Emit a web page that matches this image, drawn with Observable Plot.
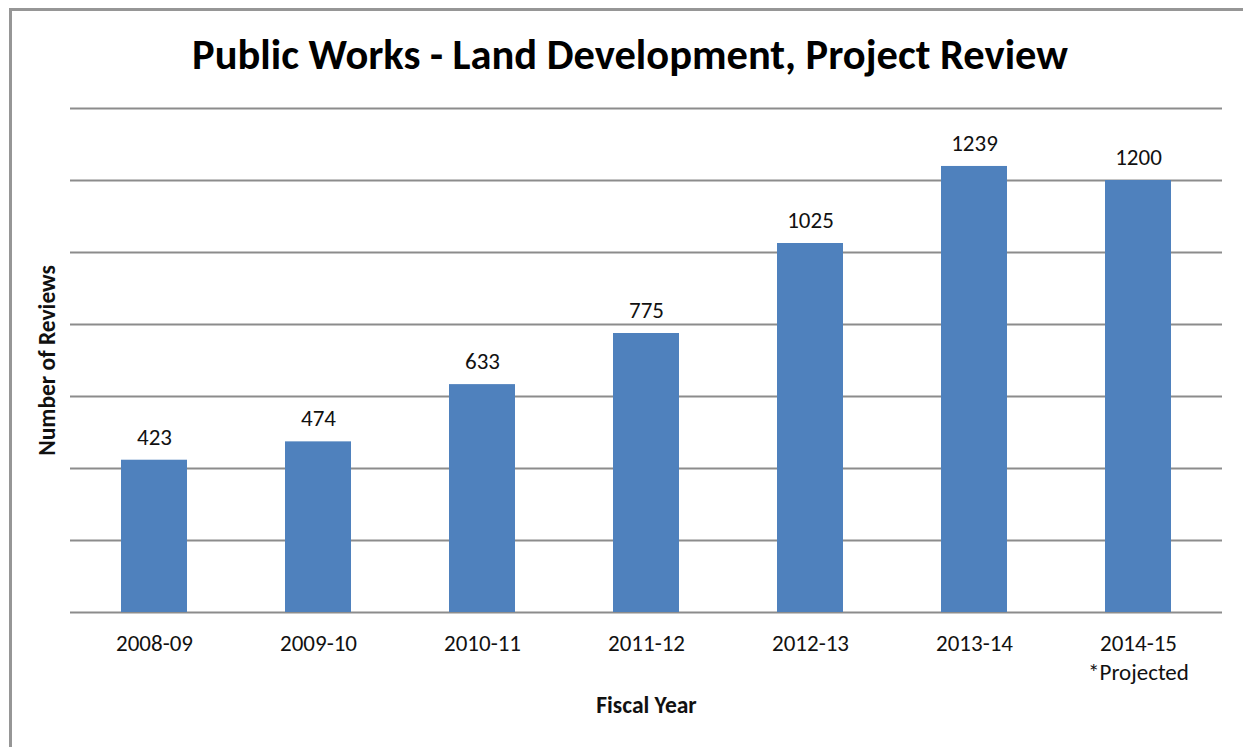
<!DOCTYPE html>
<html>
<head>
<meta charset="utf-8">
<script src="https://cdn.jsdelivr.net/npm/d3@7"></script>
<script src="https://cdn.jsdelivr.net/npm/@observablehq/plot@0.6"></script>
<style>
  html, body { margin: 0; padding: 0; background: #ffffff; }
  #page { position: relative; width: 1243px; height: 747px; overflow: hidden; }
  #frame { position: absolute; left: 9px; top: 8px; width: 1234px; height: 739px;
           border-left: 3px solid #969696; border-top: 3px solid #969696; box-sizing: border-box; }
  #title { position: absolute; left: 10px; width: 1240px; top: 30px; height: 50px; line-height: 50px;
           text-align: center; font-family: Carlito, Lato, "Open Sans", sans-serif; font-weight: 700;
           font-size: 42.5px; color: #000; white-space: nowrap; }
  #chart { position: absolute; left: 0; top: 90px; }
</style>
</head>
<body>
<div id="page">
  <div id="frame"></div>
  <div id="title"></div>
  <div id="chart"></div>
</div>
<script>
const titleText = "Public Works - Land Development, Project Review";
const years = ["2008-09", "2009-10", "2010-11", "2011-12", "2012-13", "2013-14", "2014-15"];
const reviews = [423, 474, 633, 775, 1025, 1239, 1200];
const yearNotes = ["", "", "", "", "", "", "*Projected"];
const gridTicks = [0, 200, 400, 600, 800, 1000, 1200, 1400];
const xLabel = "Fiscal Year";
const yLabel = "Number of Reviews";

document.getElementById("title").textContent = titleText;

const data = years.map((y, i) => ({year: y, reviews: reviews[i], note: yearNotes[i]}));
const noteOf = new Map(years.map((y, i) => [y, yearNotes[i]]));

const font = "Carlito, Lato, 'Open Sans', sans-serif";

const chart = Plot.plot({
  width: 1243,
  height: 657,
  marginTop: 18,
  marginBottom: 135,
  marginLeft: 70,
  marginRight: 21,
  style: {fontFamily: font, fontSize: "23px", color: "#111", background: "transparent"},
  x: {domain: years, paddingInner: 0.6, paddingOuter: 0.3, axis: null},
  y: {domain: [0, 1400], axis: null},
  marks: [
    Plot.ruleY(gridTicks, {stroke: "#8c8c8c", strokeWidth: 2}),
    Plot.barY(data, {x: "year", y: "reviews", fill: "#4F81BD"}),
    Plot.text(data, {x: "year", y: "reviews", text: d => String(d.reviews), dy: -23, fontSize: 23, fill: "#111"}),
    Plot.axisX({
      tickSize: 0,
      tickPadding: 18,
      fontSize: 23,
      lineHeight: 1.26,
      tickFormat: d => noteOf.get(d) ? d + "\n" + noteOf.get(d) : d,
      label: null
    }),
    Plot.text([xLabel], {frameAnchor: "bottom", lineAnchor: "middle", textAnchor: "middle", dy: 93, fontWeight: "bold", fontSize: 23.5, fill: "#111"}),
    Plot.text([yLabel], {frameAnchor: "left", textAnchor: "middle", lineAnchor: "middle", dx: -23, rotate: -90, fontWeight: "bold", fontSize: 23.5, fill: "#111"})
  ]
});
document.getElementById("chart").appendChild(chart);
</script>
</body>
</html>
